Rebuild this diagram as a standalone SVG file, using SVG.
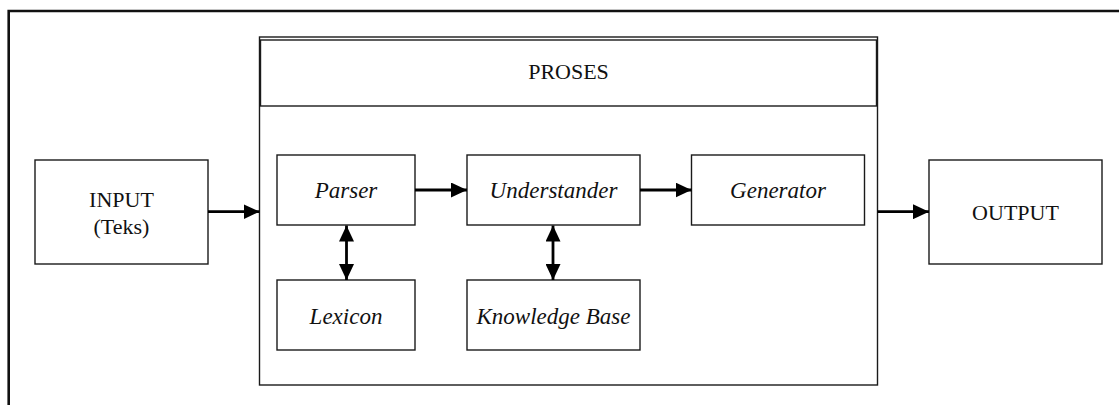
<svg xmlns="http://www.w3.org/2000/svg" width="1119" height="405" viewBox="0 0 1119 405">
  <style>
    .box { fill: #fff; stroke: #1a1a1a; stroke-width: 1.4; }
    .lbl { font-family: "Liberation Serif", "Times New Roman", serif; font-size: 22px; fill: #111; text-anchor: middle; }
    .it { font-style: italic; font-size: 23px; }
    .conn { stroke: #000; stroke-width: 2.8; fill: none; }
  </style>
  <defs>
    <marker id="head" viewBox="0 0 16 15" refX="16" refY="7.5" markerWidth="16" markerHeight="15" markerUnits="userSpaceOnUse" orient="auto-start-reverse">
      <path d="M0,0 L16,7.5 L0,15 Z" fill="#000"/>
    </marker>
  </defs>

  <rect width="1119" height="405" fill="#fff"/>

  <!-- outer frame, open to the right and bottom -->
  <path d="M8.7,405 L8.7,11 L1119,11" fill="none" stroke="#111" stroke-width="2.6"/>

  <!-- process container with its header band -->
  <g id="proses">
    <rect class="box" x="259.5" y="37" width="618" height="348"/>
    <rect class="box" x="260.5" y="40" width="616" height="66"/>
    <text class="lbl" x="568.5" y="78.5">PROSES</text>
  </g>

  <g id="input">
    <rect class="box" x="35" y="160" width="173" height="104"/>
    <text class="lbl" x="121.5" y="206.5">INPUT</text>
    <text class="lbl" x="121.5" y="234">(Teks)</text>
  </g>

  <g id="parser">
    <rect class="box" x="277" y="155" width="138" height="70"/>
    <text class="lbl it" x="346" y="198.3">Parser</text>
  </g>

  <g id="lexicon">
    <rect class="box" x="277" y="280" width="138" height="70"/>
    <text class="lbl it" x="346" y="324">Lexicon</text>
  </g>

  <g id="understander">
    <rect class="box" x="467" y="155" width="173" height="70"/>
    <text class="lbl it" x="553.5" y="198.3">Understander</text>
  </g>

  <g id="knowledge-base">
    <rect class="box" x="467" y="280" width="173" height="70"/>
    <text class="lbl it" x="553.5" y="324">Knowledge Base</text>
  </g>

  <g id="generator">
    <rect class="box" x="691.5" y="155" width="173" height="70"/>
    <text class="lbl it" x="778" y="198.3">Generator</text>
  </g>

  <g id="output">
    <rect class="box" x="929" y="160" width="173" height="104"/>
    <text class="lbl" x="1015.5" y="220">OUTPUT</text>
  </g>

  <g id="connectors">
    <line class="conn" x1="208" y1="211.7" x2="259.5" y2="211.7" marker-end="url(#head)"/>
    <line class="conn" x1="415" y1="190" x2="467" y2="190" marker-end="url(#head)"/>
    <line class="conn" x1="640" y1="190" x2="691.5" y2="190" marker-end="url(#head)"/>
    <line class="conn" x1="877.5" y1="211.7" x2="929" y2="211.7" marker-end="url(#head)"/>
    <line class="conn" x1="346.5" y1="225.5" x2="346.5" y2="280" marker-start="url(#head)" marker-end="url(#head)"/>
    <line class="conn" x1="553" y1="225.5" x2="553" y2="280" marker-start="url(#head)" marker-end="url(#head)"/>
  </g>
</svg>
